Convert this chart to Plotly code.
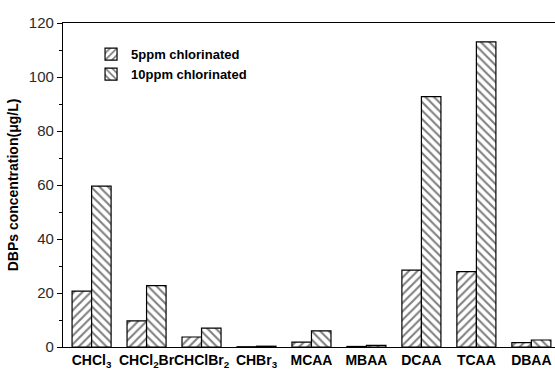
import plotly.graph_objects as go

categories = ["CHCl<sub>3</sub>", "CHCl<sub>2</sub>Br", "CHClBr<sub>2</sub>", "CHBr<sub>3</sub>",
              "MCAA", "MBAA", "DCAA", "TCAA", "DBAA"]
ppm5 = [20.7, 9.7, 3.7, 0.1, 1.8, 0.2, 28.5, 27.9, 1.6]
ppm10 = [59.6, 22.7, 7.0, 0.3, 6.0, 0.6, 92.7, 113.0, 2.6]
series_names = ["5ppm chlorinated", "10ppm chlorinated"]

x = list(range(len(categories)))

fig = go.Figure()
for name, vals, shape in [(series_names[0], ppm5, "/"), (series_names[1], ppm10, "\\")]:
    fig.add_trace(go.Bar(
        x=x, y=vals, name=name,
        marker=dict(color="white",
                    line=dict(color="black", width=1.2),
                    pattern=dict(shape=shape, fgcolor="black", bgcolor="white",
                                 size=6, solidity=0.35)),
    ))

fig.update_layout(
    width=555, height=372,
    margin=dict(l=63, r=0, t=23, b=25),
    paper_bgcolor="white", plot_bgcolor="white",
    barmode="group", bargap=0.29, bargroupgap=0,
    font=dict(family="Arial, Liberation Sans", color="black"),
    showlegend=True,
    legend=dict(x=0.057, y=0.95, xanchor="left", yanchor="top",
                bgcolor="rgba(0,0,0,0)", tracegroupgap=0,
                font=dict(size=13, family="Arial, Liberation Sans", weight="bold"),
                itemwidth=30),
    xaxis=dict(range=[-0.52, 8.43], tickmode="array", tickvals=x, ticktext=categories,
               tickangle=0, ticklabeloverflow="allow",
               showline=True, linecolor="black", linewidth=1.2, mirror=True,
               ticks="", showgrid=False, zeroline=False,
               tickfont=dict(size=14, family="Arial, Liberation Sans", weight="bold", color="black")),
    yaxis=dict(range=[0, 120], dtick=20, showline=True, linecolor="black", linewidth=1.2,
               ticks="outside", ticklen=5, tickcolor="black", showgrid=False, zeroline=False,
               minor=dict(dtick=10, ticks="outside", ticklen=3, tickcolor="black"),
               tickfont=dict(size=15, color="#2a2a2a"),
               title=dict(text="DBPs concentration(μg/L)", standoff=6,
                          font=dict(size=14, weight="bold", color="black"))),
)

fig.write_html("out.html")
